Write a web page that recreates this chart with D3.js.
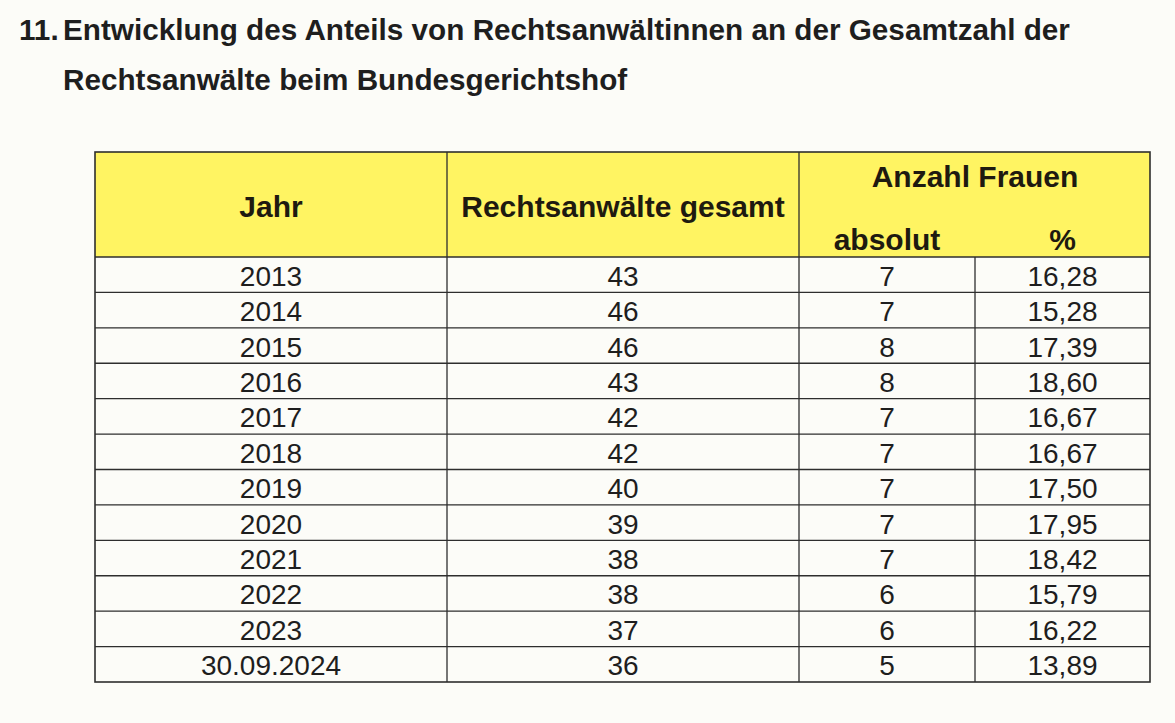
<!DOCTYPE html>
<html lang="de">
<head>
  <meta charset="UTF-8">
  <title>Rechtsanwältinnen beim Bundesgerichtshof</title>
  <script src="https://d3js.org/d3.v7.min.js"></script>
  <style>
    body {
      margin: 0;
      background: #fcfcf8;
      font-family: 'Liberation Sans', Arial, sans-serif;
    }
    svg { display: block; }
    .title { font-size: 29.7px; font-weight: bold; fill: #1e1e1e; }
    .head { font-size: 30px; font-weight: bold; fill: #1e1a10; text-anchor: middle; }
    .cell { font-size: 28px; fill: #1e1e1e; text-anchor: middle; }
  </style>
</head>
<body>
<svg width="1175" height="723"></svg>
<script>
// Werte aus der Tabelle
const jahre = ["2013", "2014", "2015", "2016", "2017", "2018", "2019", "2020", "2021", "2022", "2023", "30.09.2024"];
const gesamt = [43, 46, 46, 43, 42, 42, 40, 39, 38, 38, 37, 36];
const absolut = [7, 7, 8, 8, 7, 7, 7, 7, 7, 6, 6, 5];
const prozent = [16.28, 15.28, 17.39, 18.60, 16.67, 16.67, 17.50, 17.95, 18.42, 15.79, 16.22, 13.89];

const spalten = ["jahr", "gesamt", "absolut", "prozent"];

const de = d3.formatLocale({ decimal: ",", thousands: ".", grouping: [3], currency: ["", " €"] });
const fmtPct = de.format(".2f");

const svg = d3.select("svg");

// Titel
svg.append("text").attr("class", "title").attr("x", 19).attr("y", 40).text("11.");
svg.append("text").attr("class", "title").attr("x", 63).attr("y", 40)
  .text("Entwicklung des Anteils von Rechtsanwältinnen an der Gesamtzahl der");
svg.append("text").attr("class", "title").attr("x", 63).attr("y", 90)
  .text("Rechtsanwälte beim Bundesgerichtshof");

// Spaltengrenzen
const colEdge = d3.scaleOrdinal()
  .domain(["jahr", "gesamt", "absolut", "prozent", "ende"])
  .range([95, 447, 799, 975, 1150]);
const colNext = { jahr: "gesamt", gesamt: "absolut", absolut: "prozent", prozent: "ende" };
const colMid = c => (colEdge(c) + colEdge(colNext[c])) / 2;

const tabTop = 152, headBottom = 257, tabBottom = 682;
const left = colEdge("jahr"), right = colEdge("ende");

const y = d3.scaleBand()
  .domain(jahre)
  .range([headBottom, tabBottom]);

// Kopfzeile
svg.append("rect")
  .attr("x", left).attr("y", tabTop)
  .attr("width", right - left).attr("height", headBottom - tabTop)
  .attr("fill", "#fff462");

const head = svg.append("g");
head.append("text").attr("class", "head").attr("x", colMid("jahr")).attr("y", 217).text("Jahr");
head.append("text").attr("class", "head").attr("x", colMid("gesamt")).attr("y", 217).text("Rechtsanwälte gesamt");
head.append("text").attr("class", "head").attr("x", colEdge("prozent")).attr("y", 187).text("Anzahl Frauen");
head.append("text").attr("class", "head").attr("x", colMid("absolut")).attr("y", 250).text("absolut");
head.append("text").attr("class", "head").attr("x", colMid("prozent")).attr("y", 250).text("%");

// Zeilen
const rows = jahre.map((j, i) => ({
  jahr: j,
  gesamt: String(gesamt[i]),
  absolut: String(absolut[i]),
  prozent: fmtPct(prozent[i])
}));

const row = svg.append("g")
  .selectAll("g")
  .data(rows)
  .join("g")
  .attr("transform", d => `translate(0,${y(d.jahr)})`);

row.selectAll("text")
  .data(d => spalten.map(c => ({ c, v: d[c] })))
  .join("text")
  .attr("class", "cell")
  .attr("x", d => colMid(d.c))
  .attr("y", y.bandwidth() / 2 + 11)
  .text(d => d.v);

// Linien
const lines = svg.append("g").attr("stroke", "#2e2e2e").attr("fill", "none");

lines.selectAll("line.h")
  .data(jahre.slice(1))
  .join("line")
  .attr("class", "h")
  .attr("x1", left).attr("x2", right)
  .attr("y1", d => y(d)).attr("y2", d => y(d))
  .attr("stroke-width", 1.3);

lines.append("line")
  .attr("x1", left).attr("x2", right)
  .attr("y1", headBottom).attr("y2", headBottom)
  .attr("stroke-width", 1.3);

lines.selectAll("line.v")
  .data(["gesamt", "absolut"])
  .join("line")
  .attr("class", "v")
  .attr("x1", d => colEdge(d)).attr("x2", d => colEdge(d))
  .attr("y1", tabTop).attr("y2", tabBottom)
  .attr("stroke-width", 1.3);

lines.append("line")
  .attr("x1", colEdge("prozent")).attr("x2", colEdge("prozent"))
  .attr("y1", headBottom).attr("y2", tabBottom)
  .attr("stroke-width", 1.3);

lines.append("rect")
  .attr("x", left).attr("y", tabTop)
  .attr("width", right - left).attr("height", tabBottom - tabTop)
  .attr("stroke-width", 1.6);
</script>
</body>
</html>
